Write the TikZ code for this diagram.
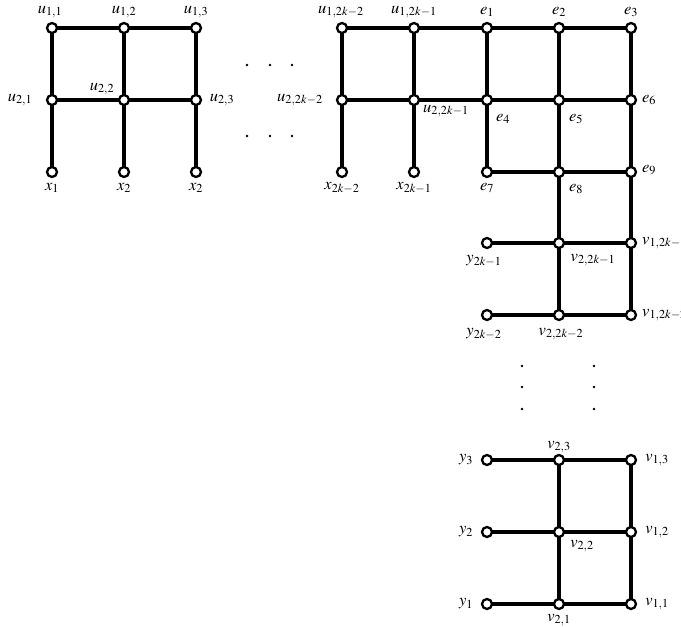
\documentclass[tikz,border=0pt]{standalone}
\usepackage{mathptmx}
\begin{document}
\begin{tikzpicture}[x=1pt,y=-1pt,
  vtx/.style={circle,draw=black,fill=white,line width=2.3pt,inner sep=0pt,minimum size=10pt},
  edge/.style={line width=3.2pt},
  thick edge/.style={line width=4.2pt},
  lbl/.style={inner sep=0pt,font=\fontsize{16.5}{16.5}\selectfont},
  dot/.style={circle,fill=black,inner sep=0pt,minimum size=2.8pt}]
\useasboundingbox (0,0) rectangle (681,627);

% left block
\foreach \n/\x/\y in {u11/52/28,u12/124/28,u13/196/28,
  u21/52/100,u22/124/100,u23/196/100,
  xa/52/172,xb/124/172,xc/196/172,
  % right block
  ua/342/28,ub/414/28,e1/487/28,e2/559/28,e3/631/28,
  uc/342/100,ud/414/100,e4/487/100,e5/559/100,e6/631/100,
  xd/342/172,xe/414/172,e7/487/172,e8/559/172,e9/631/172,
  ya/487/243,va/559/243,wa/631/243,
  yb/487/315,vb/559/315,wb/631/315,
  y3/487/460,v23/559/460,v13/631/460,
  y2/487/532,v22/559/532,v12/631/532,
  y1/487/604,v21/559/604,v11/631/604}
  \coordinate (\n) at (\x,\y);

% edges
\draw[edge] (u11) -- (u13) (u21) -- (u23)
  (u11) -- (xa) (u12) -- (xb) (u13) -- (xc);
\draw[edge] (ua) -- (e3) (uc) -- (e6) (e7) -- (e9)
  (ua) -- (xd) (ub) -- (xe) (e2) -- (vb) (e3) -- (wb)
  (yb) -- (wb);
\draw[thick edge] (e1) -- (e7) (ya) -- (wa);
\draw[thick edge] (y3) -- (v13);
\draw[edge] (y2) -- (v12) (y1) -- (v11) (v23) -- (v21) (v13) -- (v11);

% vertices
\foreach \n in {u11,u12,u13,u21,u22,u23,xa,xb,xc,ua,ub,e1,e2,e3,uc,ud,e4,e5,e6,
  xd,xe,e7,e8,e9,ya,va,wa,yb,vb,wb,y3,v23,v13,y2,v22,v12,y1,v21,v11}
  \node[vtx] (n\n) at (\n) {};

% labels
\node[lbl] (l1) at (50,12) {$u_{1,1}$};
\node[lbl] (l2) at (124,12) {$u_{1,2}$};
\node[lbl] (l3) at (196,12) {$u_{1,3}$};
\node[lbl] (l4) at (20,100) {$u_{2,1}$};
\node[lbl] (l5) at (102,89) {$u_{2,2}$};
\node[lbl] (l6) at (222,100) {$u_{2,3}$};
\node[lbl] (l7) at (52,188) {$x_1$};
\node[lbl] (l8) at (124,188) {$x_2$};
\node[lbl] (l9) at (196,188) {$x_2$};
\node[lbl] (l10) at (341,12) {$u_{1,2k-2}$};
\node[lbl] (l11) at (414,12) {$u_{1,2k-1}$};
\node[lbl] (l12) at (487,12) {$e_1$};
\node[lbl] (l13) at (559,12) {$e_2$};
\node[lbl] (l14) at (631,12) {$e_3$};
\node[lbl] (l15) at (300,100) {$u_{2,2k-2}$};
\node[lbl] (l16) at (446,111) {$u_{2,2k-1}$};
\node[lbl] (l17) at (503,119) {$e_4$};
\node[lbl] (l18) at (576,119) {$e_5$};
\node[lbl] (l19) at (649,100) {$e_6$};
\node[lbl] (l20) at (342,188) {$x_{2k-2}$};
\node[lbl] (l21) at (414,188) {$x_{2k-1}$};
\node[lbl] (l22) at (487,188) {$e_7$};
\node[lbl] (l23) at (576,189) {$e_8$};
\node[lbl] (l24) at (649,170) {$e_9$};
\node[lbl] (l25) at (484,261) {$y_{2k-1}$};
\node[lbl] (l26) at (593,260) {$v_{2,2k-1}$};
\node[lbl,anchor=west] (l27) at (642,243) {$v_{1,2k-1}$};
\node[lbl] (l28) at (484,334) {$y_{2k-2}$};
\node[lbl] (l29) at (561,334) {$v_{2,2k-2}$};
\node[lbl,anchor=west] (l30) at (642,315) {$v_{1,2k-2}$};
\node[lbl] (l31) at (466,460) {$y_3$};
\node[lbl] (l32) at (559,447) {$v_{2,3}$};
\node[lbl] (l33) at (657,460) {$v_{1,3}$};
\node[lbl] (l34) at (466,532) {$y_2$};
\node[lbl] (l35) at (582,546) {$v_{2,2}$};
\node[lbl] (l36) at (657,532) {$v_{1,2}$};
\node[lbl] (l37) at (466,604) {$y_1$};
\node[lbl] (l38) at (559,620) {$v_{2,1}$};
\node[lbl] (l39) at (657,604) {$v_{1,1}$};

% ellipsis dots
\foreach \x in {247,270,292} {
  \node[dot] (da\x) at (\x,65) {};
  \node[dot] (db\x) at (\x,136) {};
}
\foreach \y in {366,387,409} {
  \node[dot] (dc\y) at (522,\y) {};
  \node[dot] (dd\y) at (594,\y) {};
}
\end{tikzpicture}
\end{document}
